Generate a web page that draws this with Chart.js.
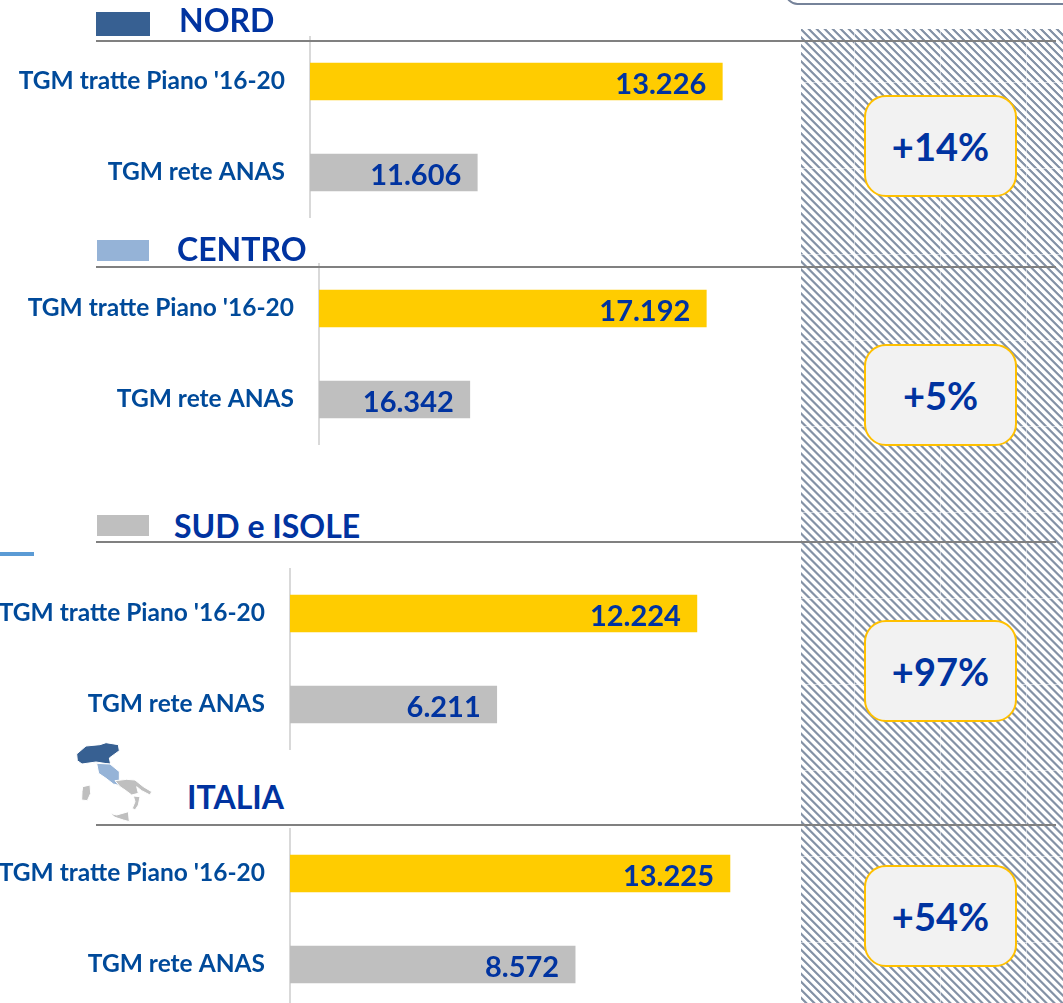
<!DOCTYPE html>
<html><head><meta charset="utf-8">
<script src="https://cdn.jsdelivr.net/npm/chart.js@4"></script>
<style>
html,body{margin:0;padding:0;background:#fff;overflow:hidden}
#stage{position:relative;width:1063px;height:1003px;overflow:hidden;font-family:Lato,sans-serif;font-weight:700}
#stage>*{position:absolute}
#hatch{left:801px;top:29px;width:262px;height:974px;background:linear-gradient(90deg,transparent 53px,rgba(255,255,255,.55) 53px,rgba(255,255,255,.55) 54px,transparent 54px) 0 0/86px 86px,linear-gradient(180deg,transparent 53px,rgba(255,255,255,.55) 53px,rgba(255,255,255,.55) 54px,transparent 54px) 0 0/86px 86px,repeating-linear-gradient(45deg,#fff 0,#fff 2.2px,#8492a6 3px,#8492a6 4.4px,#fff 5.2px,#fff 5.66px)}
.rule{left:96px;width:960px;height:2px;background:#808080}
.title{color:#0033a0;font-size:32px;line-height:40px;white-space:nowrap}
.badge{left:864px;width:149px;height:98px;background:#f2f2f2;border:2px solid #ffc000;border-radius:22px;color:#0033a0;font-size:38px;display:flex;align-items:center;justify-content:center}
canvas{position:absolute;left:0}
</style></head><body>
<div id="stage">
<div id="hatch"></div>
<div style="left:785px;top:-20px;width:300px;height:21px;border:2px solid #76839a;border-radius:14px;background:#fff"></div>
<div style="left:0;top:552px;width:34px;height:4px;background:#5b9bd5"></div>
<svg style="left:0;top:730px" width="320" height="140" viewBox="0 0 960 420">
<g stroke="#fff" stroke-width="3">
<path fill="#376092" d="M230 72L258 48L300 44L318 38L355 44L358 62L328 84L332 103L288 96L246 102L232 92Z"/>
<path fill="#95b3d7" d="M290 100L330 102L358 125L358 148L360 167L340 162L318 145L296 130Z"/>
<path fill="#bfbfbf" d="M345 152L380 148L405 150L430 170L455 185L450 195L425 182L410 170L415 190L395 195L375 180L360 170Z"/>
<path fill="#bfbfbf" d="M400 198L420 200L415 225L405 240L397 235L405 215Z"/>
<path fill="#bfbfbf" d="M248 170L270 165L272 190L262 212L245 210L246 185Z"/>
<path fill="#bfbfbf" d="M330 250L350 255L385 245L388 275L370 270L345 262Z"/>
</g></svg>
<canvas id="c0"></canvas><canvas id="c1"></canvas><canvas id="c2"></canvas><canvas id="c3"></canvas>
</div>
<script>
const categories=["TGM tratte Piano '16-20","TGM rete ANAS"];
const regions=["NORD","CENTRO","SUD e ISOLE","ITALIA"];
const nord=[13226,11606];
const centro=[17192,16342];
const sud=[12224,6211];
const italia=[13225,8572];
const deltas=["+14%","+5%","+97%","+54%"];
const axisMin=[10500,15800,0,0];
const axisMax=[13700,17500,14000,15000];
const series=[nord,centro,sud,italia];

const layout=[
 {axisX:310,plotW:484,top:36,h:182,rule:40,titleX:179,titleY:0,sw:[96,12,54,24,'#376092'],badge:95},
 {axisX:319,plotW:473,top:263,h:182,rule:266,titleX:177,titleY:229,sw:[97,240,52,21,'#95b3d7'],badge:344},
 {axisX:290,plotW:466,top:568,h:182,rule:541,titleX:174,titleY:506,sw:[97,515,52,21,'#bfbfbf'],badge:620},
 {axisX:290,plotW:499,top:828,h:182,rule:824,titleX:187,titleY:777,sw:null,badge:865}
];
const stage=document.getElementById('stage');
function add(cls,css,txt){const d=document.createElement('div');d.className=cls;d.style.cssText=css;if(txt)d.textContent=txt;stage.appendChild(d);}
const fmt=v=>String(v).replace(/\B(?=(\d{3})+$)/g,'.');
const valueLabels={id:'valueLabels',afterDatasetsDraw(chart){
 const c=chart.ctx,meta=chart.getDatasetMeta(0),data=chart.data.datasets[0].data;
 c.save();c.font='700 29px Lato';c.fillStyle='#0033a0';c.textAlign='right';c.textBaseline='middle';
 meta.data.forEach((el,i)=>c.fillText(fmt(data[i]),el.x-16,el.y+3));
 c.restore();
}};
layout.forEach((L,i)=>{
 add('rule',`top:${L.rule}px`);
 if(L.sw)add('sw',`left:${L.sw[0]}px;top:${L.sw[1]}px;width:${L.sw[2]}px;height:${L.sw[3]}px;background:${L.sw[4]}`);
 add('title',`left:${L.titleX}px;top:${L.titleY}px`,regions[i]);
 add('badge',`top:${L.badge}px`,deltas[i]);
 const cv=document.getElementById('c'+i);
 cv.style.top=L.top+'px';
 cv.style.width=(L.axisX+L.plotW)+'px';
 cv.style.height=L.h+'px';
 cv.width=L.axisX+L.plotW;
 cv.height=L.h;
 new Chart(cv,{type:'bar',plugins:[valueLabels],
  data:{labels:categories,datasets:[{data:series[i],backgroundColor:['#ffcc00','#bfbfbf'],barThickness:37,borderWidth:0}]},
  options:{indexAxis:'y',responsive:false,maintainAspectRatio:false,animation:false,layout:{padding:0,autoPadding:false},
   plugins:{legend:{display:false},tooltip:{enabled:false},title:{display:false}},
   scales:{
    x:{display:false,min:axisMin[i],max:axisMax[i]},
    y:{afterFit(s){s.width=L.axisX;s.paddingTop=0;s.paddingBottom=0;},grid:{display:false,drawTicks:false},border:{display:true,color:'#d9d9d9',width:2},
       ticks:{color:'#004a9a',padding:25,font:{family:'Lato',weight:'700',size:24.5}}}
   }}});
});
</script>
</body></html>
